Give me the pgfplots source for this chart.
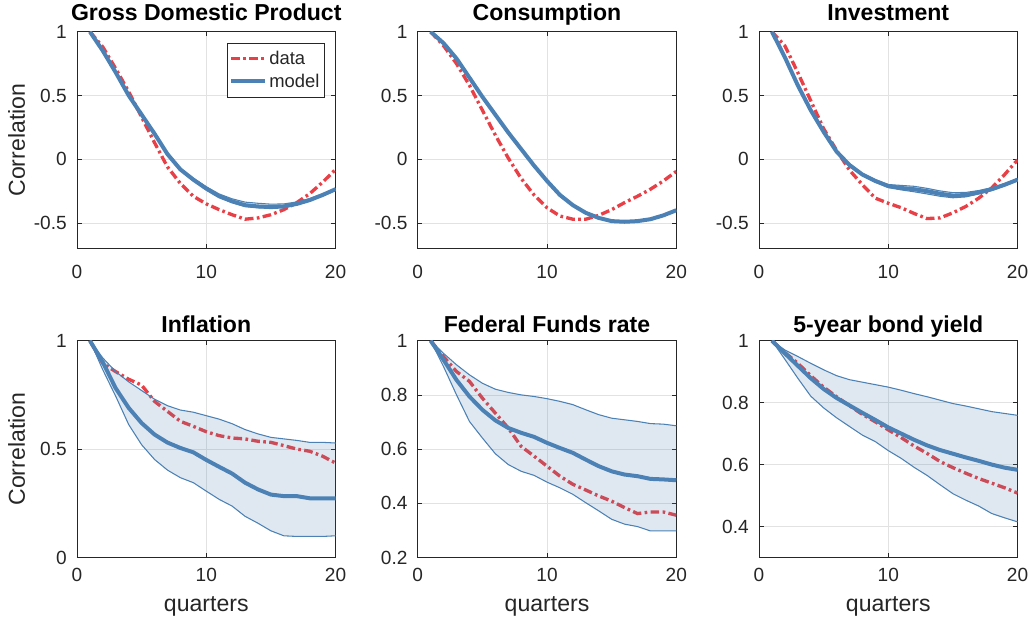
\documentclass[border=0pt]{standalone}
\usepackage{fontspec}
\setmainfont{Liberation Sans}
\usepackage{pgfplots}
\usepackage{pgfplotstable}
\pgfplotsset{compat=1.18}

\definecolor{dred}{RGB}{232,64,70}
\definecolor{mblue}{RGB}{75,129,180}
\definecolor{axc}{RGB}{38,38,38}
\definecolor{gridc}{RGB}{226,226,226}

% autocorrelations: data, model median, model band (up/lo)
\pgfplotstableread{
q data model up lo
1 1.00 1.00 1.00 1.00
2 0.88 0.85 0.855 0.845
3 0.71 0.68 0.687 0.675
4 0.53 0.50 0.508 0.494
5 0.33 0.35 0.358 0.343
6 0.13 0.20 0.208 0.193
7 -0.06 0.04 0.05 0.033
8 -0.19 -0.08 -0.07 -0.087
9 -0.29 -0.16 -0.148 -0.168
10 -0.35 -0.23 -0.215 -0.24
11 -0.395 -0.29 -0.272 -0.30
12 -0.435 -0.33 -0.31 -0.34
13 -0.47 -0.36 -0.336 -0.37
14 -0.46 -0.37 -0.345 -0.38
15 -0.435 -0.375 -0.352 -0.383
16 -0.395 -0.37 -0.35 -0.378
17 -0.34 -0.35 -0.335 -0.358
18 -0.27 -0.32 -0.308 -0.328
19 -0.18 -0.28 -0.27 -0.287
20 -0.08 -0.235 -0.227 -0.242
}\gdp

\pgfplotstableread{
q data model up lo
1 1 1 1 1
2 0.89 0.91 0.913 0.907
3 0.75 0.79 0.794 0.786
4 0.58 0.64 0.645 0.635
5 0.385 0.49 0.495 0.485
6 0.19 0.35 0.355 0.345
7 0.01 0.21 0.215 0.205
8 -0.15 0.08 0.085 0.075
9 -0.28 -0.05 -0.045 -0.055
10 -0.38 -0.17 -0.165 -0.175
11 -0.445 -0.28 -0.275 -0.285
12 -0.47 -0.36 -0.355 -0.365
13 -0.47 -0.42 -0.415 -0.425
14 -0.44 -0.46 -0.455 -0.465
15 -0.395 -0.485 -0.48 -0.49
16 -0.34 -0.49 -0.485 -0.495
17 -0.29 -0.485 -0.48 -0.49
18 -0.235 -0.47 -0.465 -0.475
19 -0.17 -0.44 -0.435 -0.445
20 -0.095 -0.40 -0.395 -0.405
}\cons

\pgfplotstableread{
q data model up lo
1 1 1 1 1
2 0.89 0.80 0.81 0.79
3 0.68 0.58 0.59 0.57
4 0.46 0.385 0.395 0.372
5 0.24 0.215 0.225 0.203
6 0.07 0.06 0.07 0.05
7 -0.085 -0.045 -0.037 -0.053
8 -0.20 -0.12 -0.112 -0.13
9 -0.305 -0.17 -0.16 -0.18
10 -0.345 -0.21 -0.198 -0.222
11 -0.38 -0.225 -0.205 -0.24
12 -0.425 -0.235 -0.212 -0.255
13 -0.465 -0.25 -0.228 -0.272
14 -0.46 -0.27 -0.248 -0.29
15 -0.42 -0.285 -0.262 -0.302
16 -0.37 -0.28 -0.26 -0.295
17 -0.305 -0.26 -0.245 -0.272
18 -0.225 -0.235 -0.223 -0.245
19 -0.12 -0.2 -0.19 -0.208
20 -0.005 -0.16 -0.152 -0.167
}\inv

\pgfplotstableread{
q data model up lo
1 1 1 1 1
2 0.895 0.90 0.92 0.865
3 0.857 0.78 0.857 0.743
4 0.822 0.69 0.81 0.613
5 0.795 0.62 0.77 0.52
6 0.72 0.567 0.73 0.452
7 0.674 0.53 0.70 0.403
8 0.628 0.505 0.68 0.368
9 0.605 0.485 0.67 0.345
10 0.58 0.45 0.654 0.306
11 0.562 0.418 0.638 0.268
12 0.551 0.387 0.617 0.237
13 0.547 0.345 0.59 0.19
14 0.536 0.314 0.57 0.158
15 0.531 0.29 0.554 0.123
16 0.516 0.283 0.547 0.10
17 0.50 0.283 0.54 0.097
18 0.49 0.273 0.531 0.097
19 0.467 0.273 0.531 0.097
20 0.436 0.273 0.528 0.10
}\infl

\pgfplotstableread{
q data model up lo
1 1 1 1 1
2 0.941 0.929 0.953 0.904
3 0.886 0.855 0.911 0.80
4 0.85 0.794 0.874 0.702
5 0.788 0.745 0.843 0.641
6 0.733 0.706 0.821 0.583
7 0.678 0.678 0.809 0.543
8 0.61 0.66 0.80 0.518
9 0.574 0.645 0.794 0.503
10 0.537 0.623 0.786 0.478
11 0.50 0.604 0.776 0.457
12 0.47 0.586 0.764 0.433
13 0.449 0.561 0.745 0.402
14 0.427 0.537 0.727 0.372
15 0.408 0.518 0.714 0.341
16 0.384 0.506 0.708 0.323
17 0.362 0.50 0.702 0.314
18 0.368 0.49 0.694 0.298
19 0.368 0.488 0.692 0.298
20 0.356 0.485 0.686 0.298
}\ffr

\pgfplotstableread{
q data model up lo
1 1 1 1 1
2 0.962 0.959 0.97 0.94
3 0.927 0.919 0.949 0.879
4 0.887 0.879 0.927 0.821
5 0.85 0.844 0.906 0.783
6 0.819 0.815 0.887 0.751
7 0.79 0.791 0.874 0.723
8 0.762 0.767 0.866 0.695
9 0.738 0.744 0.858 0.674
10 0.712 0.72 0.85 0.645
11 0.687 0.70 0.84 0.62
12 0.66 0.68 0.829 0.591
13 0.636 0.662 0.819 0.565
14 0.61 0.647 0.808 0.535
15 0.59 0.635 0.797 0.506
16 0.572 0.623 0.789 0.485
17 0.555 0.612 0.78 0.466
18 0.54 0.60 0.771 0.442
19 0.525 0.59 0.765 0.428
20 0.508 0.583 0.759 0.415
}\bond

\pgfplotsset{
  panel/.style={
    scale only axis, width=193.9pt, height=162.6pt,
    xmin=0, xmax=20, xtick={0,10,20}, xticklabels={0,10,20},
    grid=major, major grid style={draw=gridc, line width=0.5pt},
    axis line style={draw=axc, line width=0.5pt},
    tick style={draw=axc, line width=0.5pt},
    tick align=inside, major tick length=3.5pt,
    xtick pos=both, ytick pos=both,
    ticklabel style={font=\fontsize{14.3}{16}\selectfont, text=axc},
    xticklabel style={anchor=base, inner sep=0pt},
    yticklabel style={anchor=east, inner sep=0pt, xshift=-7.5pt},
    every axis title/.style={at={(0.5,1)}, anchor=base, inner sep=0pt,
      font=\bfseries\fontsize{17.3}{19}\selectfont},
    every axis y label/.style={at={(0,0.5)}, rotate=90, anchor=base,
      yshift=39pt, inner sep=0pt, text=axc,
      font=\fontsize{17.3}{19}\selectfont},
    every axis x label/.style={at={(0.5,0)}, anchor=base,
      yshift=-40.3pt, inner sep=0pt, text=axc,
      font=\fontsize{17.3}{19}\selectfont},
    anchor=north west,
  },
  toprow/.style={panel, ymin=-0.7, ymax=1,
    ytick={-0.5,0,0.5,1}, yticklabels={-0.5,0,0.5,1},
    xticklabel style={yshift=-22.5pt}, title style={yshift=8.6pt}},
  botrow/.style={panel, xlabel={quarters},
    xticklabel style={yshift=-17.8pt}, title style={yshift=6.4pt}},
  dataline/.style={dred, line width=2.5pt,
    dash pattern=on 6.5pt off 2.5pt on 2pt off 2.5pt},
  modelline/.style={mblue, line width=3pt},
  edgeline/.style={mblue, line width=0.8pt, forget plot},
  bandfill/.style={fill=mblue, fill opacity=0.18, draw=none, forget plot},
}

% one panel: data, shaded band with its edges, model
\newcommand{\panelplots}[1]{%
  \addplot[dataline] table[x=q, y=data] {#1};
  \addplot[draw=none, forget plot, stack plots=y] table[x=q, y=lo] {#1};
  \addplot[bandfill, stack plots=y] table[x=q, y expr=\thisrow{up}-\thisrow{lo}] {#1} \closedcycle;
  \addplot[edgeline] table[x=q, y=up] {#1};
  \addplot[edgeline] table[x=q, y=lo] {#1};
  \addplot[modelline] table[x=q, y=model] {#1};
}

\begin{document}
\begin{tikzpicture}
\path[use as bounding box] (0pt,0pt) rectangle (771.75pt,-469.5pt);

\begin{axis}[toprow, at={(57.75pt,-23.8pt)},
  title={Gross Domestic Product}, ylabel={Correlation},
  legend style={at={(1,1)}, anchor=north east,
    xshift=-8.25pt, yshift=-8.25pt, draw=axc, line width=0.5pt, fill=white,
    font=\fontsize{13.8}{16}\selectfont, text=axc,
    inner xsep=1.5pt, inner ysep=4pt, row sep=1.5pt},
  legend cell align=left,
  legend image code/.code={\draw[#1] (0pt,0pt) -- (25pt,0pt);}]
\panelplots{\gdp}
\legend{data, model}
\end{axis}

\begin{axis}[toprow, at={(313.3pt,-23.8pt)}, title={Consumption}]
\panelplots{\cons}
\end{axis}

\begin{axis}[toprow, at={(569.25pt,-23.8pt)}, title={Investment}]
\panelplots{\inv}
\end{axis}

\begin{axis}[botrow, at={(57.75pt,-255.5pt)}, title={Inflation},
  ylabel={Correlation}, ymin=0, ymax=1,
  ytick={0,0.5,1}, yticklabels={0,0.5,1}]
\panelplots{\infl}
\end{axis}

\begin{axis}[botrow, at={(313.3pt,-255.5pt)}, title={Federal Funds rate},
  ymin=0.2, ymax=1,
  ytick={0.2,0.4,0.6,0.8,1}, yticklabels={0.2,0.4,0.6,0.8,1}]
\panelplots{\ffr}
\end{axis}

\begin{axis}[botrow, at={(569.25pt,-255.5pt)}, title={5-year bond yield},
  ymin=0.3, ymax=1,
  ytick={0.4,0.6,0.8,1}, yticklabels={0.4,0.6,0.8,1}]
\panelplots{\bond}
\end{axis}
\end{tikzpicture}
\end{document}
